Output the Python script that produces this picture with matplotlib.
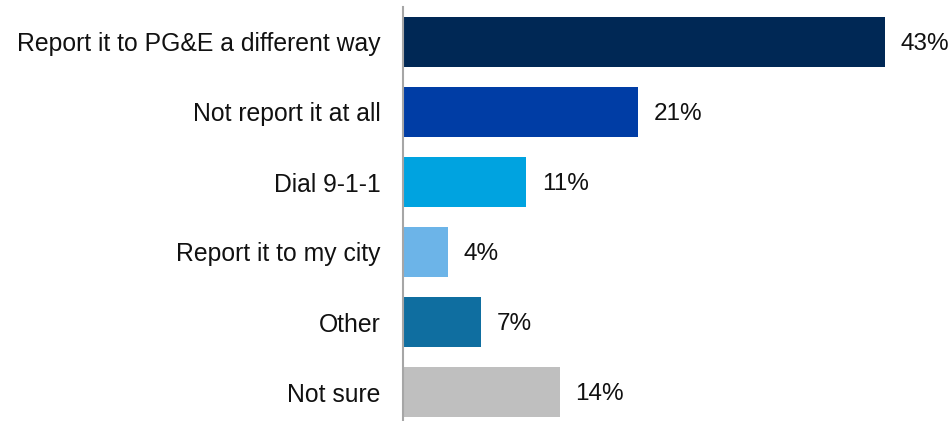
import matplotlib
matplotlib.use("Agg")
import matplotlib.pyplot as plt

plt.rcParams.update({"font.family": ["Liberation Sans", "DejaVu Sans"], "font.size": 13})

# survey answers, top to bottom
answers = ["Report it to PG&E a different way", "Not report it at all", "Dial 9-1-1",
           "Report it to my city", "Other", "Not sure"]
shares = [43, 21, 11, 4, 7, 14]
colours = ["#002855", "#003DA5", "#00A3E0", "#6CB4E8", "#0F6EA0", "#BFBFBF"]

fig = plt.figure(figsize=(9.53, 4.21), dpi=100)
ax = fig.add_axes([403 / 953, 1 - 420 / 421, 1 - 403 / 953 - 12 / 953, 413 / 421])

pos = list(range(len(answers)))
ax.barh(pos, shares, height=50 / 70, color=colours, zorder=2)
for y, v in zip(pos, shares):
    ax.text(v + 1.4, y, f"{v}%", ha="left", va="center_baseline",
            fontsize=17.5, color="#111111")

ax.set_yticks(pos)
ax.set_yticklabels(answers, fontsize=17.8, color="#111111", va="center_baseline")
ax.tick_params(axis="y", length=0, pad=16)
ax.set_xticks([])
ax.set_xlim(0, 48)
ax.set_ylim(5.4, -0.5)
for s in ["top", "right", "bottom"]:
    ax.spines[s].set_visible(False)
ax.spines["left"].set_color("#A6A6A6")
ax.spines["left"].set_linewidth(1.5)

fig.savefig("out.png", dpi=100)
